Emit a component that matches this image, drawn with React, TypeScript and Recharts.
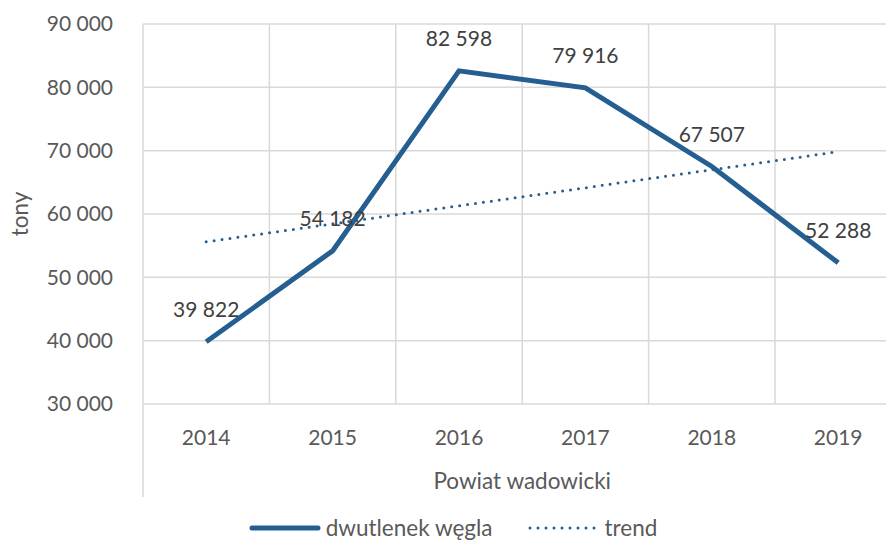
import React from 'react';
import { LineChart, Line, XAxis, YAxis, CartesianGrid, LabelList } from 'recharts';

const years = ['2014', '2015', '2016', '2017', '2018', '2019'];
const co2 = [39822, 54182, 82598, 79916, 67507, 52288];
// linear trend line as shown in the source chart
const trend = [55603, 58449, 61295, 64142, 66988, 69835];
const yTicks = [30000, 40000, 50000, 60000, 70000, 80000, 90000];

const data = years.map((year, i) => ({ year, co2: co2[i], trend: trend[i] }));

const BLUE = '#255E91';
const GRID = '#d9d9d9';
const FONT = 'Lato, "Noto Sans", sans-serif';
const NUM_SIZE = 21;
const TEXT_SIZE = 22.5;

const fmt = (n: number) => String(n).replace(/\B(?=(\d{3})+(?!\d))/g, ' ');

const ValueLabel = (props: any) => {
  const { x, y, value } = props;
  return (
    <text x={x} y={y - 32} dy="0.35em" textAnchor="middle" fill="#404040" fontSize={NUM_SIZE} fontFamily={FONT}>
      {fmt(value)}
    </text>
  );
};

const YearTick = (props: any) => {
  const { x, y, payload } = props;
  return (
    <text x={x} y={y + 32} dy="0.35em" textAnchor="middle" fill="#595959" fontSize={NUM_SIZE} fontFamily={FONT}>
      {payload.value}
    </text>
  );
};

const CategoryTitle = (props: any) => {
  const { viewBox } = props;
  const { x, y, width } = viewBox;
  return (
    <g>
      <line x1={x} x2={x} y1={y} y2={y + 93} stroke={GRID} strokeWidth={1.5} />
      <text x={x + width / 2} y={y + 77} dy="0.35em" textAnchor="middle" fill="#595959" fontSize={TEXT_SIZE} fontFamily={FONT}>
        Powiat wadowicki
      </text>
    </g>
  );
};

const AxisTitle = () => (
  <text x={20} y={214} dy="0.35em" textAnchor="middle" transform="rotate(-90, 20, 214)" fill="#595959" fontSize={TEXT_SIZE} fontFamily={FONT}>
    tony
  </text>
);

const LegendSwatch = ({ dotted }: { dotted?: boolean }) => (
  <svg width={72} height={12} style={{ marginRight: 5 }}>
    {dotted ? (
      <line x1={3} x2={69} y1={6} y2={6} stroke={BLUE} strokeWidth={3} strokeDasharray="0 8" strokeLinecap="round" />
    ) : (
      <line x1={3} x2={69} y1={6} y2={6} stroke={BLUE} strokeWidth={5} strokeLinecap="round" />
    )}
  </svg>
);

export default function App() {
  return (
    <div style={{ position: 'absolute', left: 0, top: 0, width: 886, height: 542, overflow: 'hidden', background: '#fff' }}>
      <LineChart width={910} height={542} data={data} margin={{ top: 24, right: 8.6, bottom: 108, left: 0 }}>
        <CartesianGrid
          stroke={GRID}
          strokeWidth={1.5}
          verticalCoordinatesGenerator={({ offset }: any) =>
            years.map((_, k) => offset.left + (offset.width * k) / years.length).concat(offset.left + offset.width)
          }
        />
        <XAxis
          dataKey="year"
          axisLine={false}
          tickLine={false}
          tickSize={0}
          padding={{ left: 63.2, right: 63.2 }}
          tick={<YearTick />}
          label={<CategoryTitle />}
        />
        <YAxis
          width={143}
          domain={[30000, 90000]}
          ticks={yTicks}
          tickFormatter={fmt}
          axisLine={false}
          tickLine={false}
          tickSize={0}
          tickMargin={30}
          tick={{ fill: '#595959', fontSize: NUM_SIZE, fontFamily: FONT }}
          label={<AxisTitle />}
        />
        <Line dataKey="co2" stroke={BLUE} strokeWidth={5} dot={false} isAnimationActive={false}>
          <LabelList dataKey="co2" content={<ValueLabel />} />
        </Line>
        <Line
          dataKey="trend"
          stroke={BLUE}
          strokeWidth={3}
          strokeDasharray="0 8"
          strokeLinecap="round"
          dot={false}
          isAnimationActive={false}
        />
      </LineChart>
      <div
        style={{
          position: 'absolute',
          top: 513,
          left: 0,
          width: 906,
          height: 29,
          display: 'flex',
          justifyContent: 'center',
          alignItems: 'center',
          fontFamily: FONT,
          fontSize: TEXT_SIZE,
          lineHeight: '27px',
          color: '#595959',
          whiteSpace: 'nowrap',
        }}
      >
        <LegendSwatch />
        <span style={{ marginRight: 35 }}>dwutlenek węgla</span>
        <LegendSwatch dotted />
        <span>trend</span>
      </div>
    </div>
  );
}
